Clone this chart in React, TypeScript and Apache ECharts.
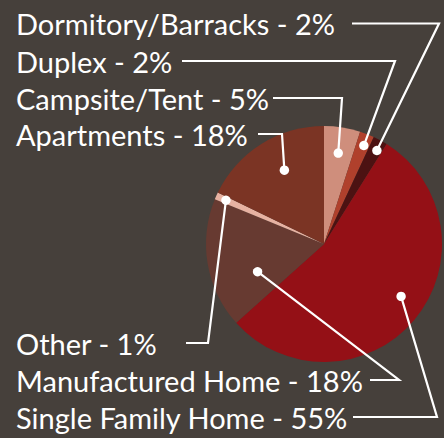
import React, { useEffect, useRef } from "react";
import * as echarts from "echarts";

const categories = [
  "Campsite/Tent",
  "Duplex",
  "Dormitory/Barracks",
  "Single Family Home",
  "Manufactured Home",
  "Other",
  "Apartments",
];
const values = [5, 2, 2, 55, 18, 1, 18];

const colors = ["#cf8e7c", "#b0402c", "#4c1212", "#941016", "#673a31", "#e7b2a2", "#7b3424"];

// label layout (positions only)
const CX = 324;
const CY = 244;
const R = 118;
const LABEL_X = 16;
const labelY = [98, 61, 23.5, 417, 380, 343, 134];
// anchor position inside each slice: fraction along slice angle, fraction of radius
const anchorAngleFrac = [0.5, 0.59, 0.64, 0.47, 0.3, 0.5, 0.56];
const anchorRadiusFrac = [0.78, 0.9, 0.91, 0.79, 0.61, 0.91, 0.71];
// elbow point and start of each leader line
const elbowX = [342, 395, 439, 437, 399, 208, 282];
const lineStartX = [273, 182, 352, 353, 370, 186, 258];

function anchors() {
  const total = values.reduce((a, b) => a + b, 0);
  let acc = 0;
  return values.map((v, i) => {
    const a0 = (acc / total) * 360;
    acc += v;
    const a1 = (acc / total) * 360;
    const ang = ((a0 + (a1 - a0) * anchorAngleFrac[i]) * Math.PI) / 180;
    const r = R * anchorRadiusFrac[i];
    return [CX + r * Math.sin(ang), CY - r * Math.cos(ang)];
  });
}

export default function App() {
  const ref = useRef<HTMLDivElement>(null);
  useEffect(() => {
    if (!ref.current) return;
    const chart = echarts.init(ref.current, null, { renderer: "svg" });
    const pts = anchors();
    chart.setOption({
      animation: false,
      backgroundColor: "#46403b",
      series: [
        {
          type: "pie",
          center: [CX, CY],
          radius: [0, R],
          startAngle: 90,
          clockwise: true,
          data: categories.map((name, i) => ({
            name,
            value: values[i],
            itemStyle: { color: colors[i] },
          })),
          itemStyle: { borderWidth: 0 },
          emphasis: { disabled: true },
          label: {
            show: true,
            position: "outside",
            formatter: "{b} - {c}%",
            color: "#ffffff",
            fontFamily: "Lato",
            fontSize: 29,
            width: 420,
            overflow: "none",
            align: "left",
          },
          labelLine: { show: false },
          labelLayout: (params: any) => {
            const i = params.dataIndex;
            return {
              x: LABEL_X,
              y: labelY[i],
              align: "left",
              verticalAlign: "middle",
            };
          },
        },
      ],
      graphic: [
        ...pts.map((p, i) => ({
          type: "polyline",
          shape: { points: [p, [elbowX[i], labelY[i]], [lineStartX[i], labelY[i]]] },
          style: { stroke: "#ffffff", lineWidth: 2.2, fill: "none" },
          z: 100,
        })),
        ...pts.map((p) => ({
          type: "circle",
          shape: { cx: p[0], cy: p[1], r: 4.7 },
          style: { fill: "#ffffff" },
          z: 101,
        })),
      ],
    });
    return () => chart.dispose();
  }, []);
  return <div ref={ref} style={{ width: 444, height: 438, position: "absolute", left: 0, top: 0 }} />;
}
